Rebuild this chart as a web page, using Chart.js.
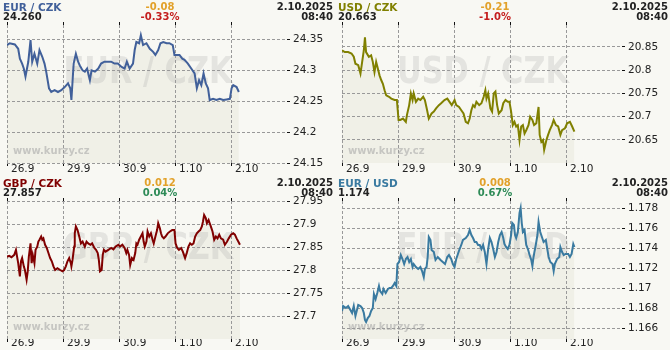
<!DOCTYPE html>
<html>
<head>
<meta charset="utf-8">
<title>Kurzy</title>
<script src="https://cdn.jsdelivr.net/npm/chart.js@4.4.1/dist/chart.umd.min.js"></script>
<style>
  html, body { margin: 0; padding: 0; }
  body { width: 670px; height: 350px; position: relative; overflow: hidden; background: #f8f8f3;
         font-family: "DejaVu Sans", Verdana, sans-serif; color: #222; }
  .panel { position: absolute; width: 335px; }
  .panel canvas { position: absolute; left: 0; top: 0; }
  .hd { position: absolute; font-size: 10px; font-weight: bold; line-height: 12px; white-space: nowrap; }
  .nm { font-size: 10.5px; }
  .l { left: 3px; }
  .c { left: 100px; width: 120px; text-align: center; }
  .r { right: 2px; text-align: right; }
  .r1 { top: 0.5px; }
  .r2 { top: 10.5px; }
</style>
</head>
<body>
<script>
// ---- data (x = trading days since 26.9) ----
const dayLabels = ['26.9', '29.9', '30.9', '1.10', '2.10'];

const pairNames = ['EUR / CZK', 'USD / CZK', 'GBP / CZK', 'EUR / USD'];
const lastRates = ['24.260', '20.663', '27.857', '1.174'];
const changeAbs = ['-0.08', '-0.21', '0.012', '0.008'];
const changePct = ['-0.33%', '-1.0%', '0.04%', '0.67%'];
const stampDate = '2.10.2025';
const stampTime = '08:40';

const eurCzkTicks = [24.15, 24.2, 24.25, 24.3, 24.35];
const usdCzkTicks = [20.65, 20.7, 20.75, 20.8, 20.85];
const gbpCzkTicks = [27.7, 27.75, 27.8, 27.85, 27.9, 27.95];
const eurUsdTicks = [1.166, 1.168, 1.17, 1.172, 1.174, 1.176, 1.178];

const eurCzkT = [0, 0.05, 0.14, 0.20, 0.23, 0.27, 0.30, 0.33, 0.38, 0.42,
  0.45, 0.49, 0.54, 0.58, 0.63, 0.67, 0.70, 0.75, 0.79, 0.85,
  0.91, 0.97, 1.03, 1.09, 1.13, 1.15, 1.19, 1.23, 1.27, 1.30,
  1.35, 1.39, 1.43, 1.48, 1.51, 1.57, 1.63, 1.68, 1.74, 1.80,
  1.86, 1.92, 1.98, 2.04, 2.10, 2.14, 2.19, 2.25, 2.28, 2.31,
  2.36, 2.39, 2.43, 2.49, 2.55, 2.61, 2.65, 2.70, 2.74, 2.79,
  2.85, 2.90, 2.96, 2.99, 3.04, 3.08, 3.13, 3.17, 3.23, 3.29,
  3.35, 3.39, 3.43, 3.47, 3.51, 3.55, 3.59, 3.62, 3.68, 3.74,
  3.80, 3.86, 3.92, 3.98, 4.01, 4.04, 4.10, 4.14];
const eurCzkV = [24.341, 24.344, 24.342, 24.335, 24.319, 24.311, 24.303, 24.290, 24.314, 24.349,
  24.314, 24.327, 24.311, 24.333, 24.322, 24.311, 24.298, 24.271, 24.265, 24.268,
  24.265, 24.268, 24.273, 24.279, 24.271, 24.252, 24.311, 24.327, 24.314, 24.308,
  24.300, 24.298, 24.303, 24.284, 24.300, 24.298, 24.303, 24.311, 24.314, 24.314,
  24.314, 24.311, 24.311, 24.306, 24.303, 24.314, 24.303, 24.311, 24.333, 24.346,
  24.344, 24.357, 24.341, 24.344, 24.335, 24.330, 24.325, 24.333, 24.344, 24.346,
  24.344, 24.344, 24.341, 24.325, 24.325, 24.325, 24.319, 24.317, 24.311, 24.303,
  24.295, 24.271, 24.284, 24.276, 24.295, 24.279, 24.271, 24.252, 24.254, 24.252,
  24.254, 24.252, 24.253, 24.254, 24.271, 24.276, 24.273, 24.265];

const usdCzkT = [0, 0.05, 0.11, 0.17, 0.21, 0.24, 0.29, 0.33, 0.36, 0.39,
  0.41, 0.43, 0.48, 0.52, 0.55, 0.58, 0.61, 0.64, 0.67, 0.70,
  0.73, 0.76, 0.79, 0.84, 0.88, 0.94, 0.98, 1.01, 1.04, 1.09,
  1.14, 1.16, 1.20, 1.23, 1.26, 1.28, 1.32, 1.36, 1.40, 1.45,
  1.48, 1.52, 1.55, 1.60, 1.64, 1.68, 1.73, 1.77, 1.83, 1.88,
  1.92, 1.96, 2.01, 2.04, 2.09, 2.13, 2.17, 2.21, 2.25, 2.28,
  2.31, 2.34, 2.37, 2.40, 2.45, 2.49, 2.53, 2.56, 2.58, 2.61,
  2.65, 2.68, 2.71, 2.74, 2.77, 2.80, 2.85, 2.88, 2.92, 2.96,
  2.99, 3.02, 3.05, 3.08, 3.11, 3.14, 3.17, 3.20, 3.23, 3.26,
  3.29, 3.33, 3.36, 3.40, 3.43, 3.47, 3.51, 3.53, 3.56, 3.59,
  3.61, 3.65, 3.68, 3.71, 3.75, 3.78, 3.82, 3.86, 3.90, 3.93,
  3.98, 4.02, 4.07, 4.11, 4.15];
const usdCzkV = [20.843, 20.839, 20.839, 20.836, 20.829, 20.814, 20.811, 20.793, 20.818, 20.843,
  20.871, 20.839, 20.829, 20.832, 20.818, 20.796, 20.818, 20.804, 20.789, 20.779,
  20.771, 20.757, 20.746, 20.743, 20.739, 20.736, 20.736, 20.693, 20.693, 20.696,
  20.689, 20.704, 20.725, 20.750, 20.736, 20.750, 20.732, 20.739, 20.736, 20.743,
  20.736, 20.714, 20.696, 20.707, 20.711, 20.718, 20.725, 20.729, 20.736, 20.739,
  20.732, 20.725, 20.736, 20.725, 20.721, 20.714, 20.707, 20.689, 20.686, 20.696,
  20.714, 20.725, 20.721, 20.732, 20.725, 20.729, 20.743, 20.757, 20.739, 20.750,
  20.718, 20.711, 20.750, 20.754, 20.725, 20.707, 20.714, 20.729, 20.736, 20.732,
  20.732, 20.711, 20.682, 20.689, 20.679, 20.682, 20.650, 20.679, 20.682, 20.664,
  20.671, 20.682, 20.700, 20.693, 20.682, 20.686, 20.721, 20.661, 20.646, 20.650,
  20.629, 20.650, 20.661, 20.671, 20.682, 20.693, 20.682, 20.679, 20.661, 20.671,
  20.675, 20.686, 20.689, 20.679, 20.668];

const gbpCzkT = [0, 0.04, 0.08, 0.13, 0.16, 0.18, 0.20, 0.23, 0.25, 0.27,
  0.30, 0.32, 0.35, 0.37, 0.39, 0.42, 0.44, 0.46, 0.49, 0.51,
  0.54, 0.56, 0.58, 0.61, 0.63, 0.65, 0.68, 0.71, 0.74, 0.77,
  0.80, 0.83, 0.86, 0.90, 0.95, 0.99, 1.02, 1.05, 1.08, 1.11,
  1.14, 1.15, 1.17, 1.20, 1.21, 1.23, 1.26, 1.29, 1.32, 1.35,
  1.39, 1.42, 1.45, 1.49, 1.52, 1.56, 1.59, 1.62, 1.64, 1.66,
  1.69, 1.71, 1.73, 1.76, 1.81, 1.86, 1.90, 1.94, 1.99, 2.02,
  2.06, 2.10, 2.13, 2.15, 2.18, 2.20, 2.23, 2.26, 2.29, 2.31,
  2.33, 2.36, 2.39, 2.42, 2.44, 2.46, 2.49, 2.51, 2.54, 2.57,
  2.60, 2.62, 2.65, 2.68, 2.70, 2.73, 2.75, 2.77, 2.80, 2.83,
  2.87, 2.91, 2.95, 2.99, 3.01, 3.04, 3.07, 3.11, 3.14, 3.18,
  3.21, 3.24, 3.27, 3.30, 3.33, 3.36, 3.39, 3.42, 3.45, 3.48,
  3.50, 3.52, 3.55, 3.57, 3.60, 3.62, 3.64, 3.67, 3.70, 3.73,
  3.76, 3.79, 3.82, 3.86, 3.89, 3.93, 3.96, 4.00, 4.04, 4.07,
  4.10, 4.13, 4.16];
const gbpCzkV = [27.830, 27.832, 27.829, 27.834, 27.845, 27.830, 27.816, 27.787, 27.820, 27.827,
  27.809, 27.801, 27.780, 27.798, 27.830, 27.859, 27.816, 27.834, 27.816, 27.845,
  27.852, 27.863, 27.867, 27.874, 27.867, 27.870, 27.856, 27.849, 27.838, 27.827,
  27.820, 27.809, 27.801, 27.805, 27.801, 27.798, 27.801, 27.809, 27.820, 27.827,
  27.816, 27.809, 27.823, 27.852, 27.881, 27.896, 27.888, 27.874, 27.859, 27.863,
  27.852, 27.863, 27.859, 27.856, 27.859, 27.849, 27.845, 27.838, 27.823, 27.798,
  27.801, 27.834, 27.845, 27.841, 27.845, 27.849, 27.846, 27.852, 27.856, 27.852,
  27.856, 27.849, 27.838, 27.845, 27.834, 27.812, 27.827, 27.823, 27.838, 27.859,
  27.856, 27.867, 27.874, 27.881, 27.863, 27.852, 27.863, 27.885, 27.874, 27.881,
  27.867, 27.859, 27.874, 27.888, 27.903, 27.892, 27.881, 27.874, 27.870, 27.874,
  27.881, 27.885, 27.888, 27.888, 27.859, 27.849, 27.845, 27.849, 27.841, 27.827,
  27.838, 27.852, 27.859, 27.856, 27.859, 27.874, 27.881, 27.885, 27.888, 27.896,
  27.907, 27.921, 27.914, 27.903, 27.910, 27.903, 27.896, 27.885, 27.867, 27.874,
  27.870, 27.878, 27.870, 27.867, 27.856, 27.863, 27.870, 27.878, 27.881, 27.878,
  27.870, 27.863, 27.856];

const eurUsdT = [0, 0.02, 0.07, 0.11, 0.15, 0.18, 0.21, 0.24, 0.29, 0.33,
  0.36, 0.39, 0.41, 0.43, 0.46, 0.49, 0.52, 0.55, 0.57, 0.60,
  0.63, 0.66, 0.68, 0.72, 0.74, 0.78, 0.82, 0.85, 0.88, 0.91,
  0.94, 0.97, 0.99, 1.02, 1.05, 1.08, 1.11, 1.14, 1.17, 1.20,
  1.23, 1.26, 1.28, 1.32, 1.36, 1.40, 1.43, 1.46, 1.48, 1.51,
  1.53, 1.55, 1.58, 1.60, 1.64, 1.67, 1.71, 1.76, 1.80, 1.84,
  1.88, 1.91, 1.95, 1.98, 2.01, 2.04, 2.07, 2.10, 2.13, 2.16,
  2.21, 2.25, 2.28, 2.31, 2.34, 2.37, 2.40, 2.43, 2.46, 2.49,
  2.52, 2.55, 2.58, 2.61, 2.64, 2.67, 2.70, 2.73, 2.76, 2.79,
  2.82, 2.85, 2.88, 2.90, 2.93, 2.96, 2.99, 3.02, 3.04, 3.07,
  3.09, 3.11, 3.14, 3.17, 3.19, 3.21, 3.23, 3.26, 3.29, 3.32,
  3.35, 3.38, 3.40, 3.42, 3.46, 3.49, 3.51, 3.54, 3.57, 3.60,
  3.64, 3.66, 3.69, 3.72, 3.76, 3.78, 3.80, 3.84, 3.88, 3.90,
  3.93, 3.96, 3.99, 4.04, 4.07, 4.10, 4.13, 4.15];
const eurUsdV = [1.1677, 1.1682, 1.1680, 1.1682, 1.1678, 1.1675, 1.1682, 1.1672, 1.1683, 1.1682,
  1.1680, 1.1675, 1.1668, 1.1666, 1.1670, 1.1672, 1.1677, 1.1680, 1.1694, 1.1689,
  1.1695, 1.1702, 1.1697, 1.1694, 1.1699, 1.1695, 1.1699, 1.1700, 1.1700, 1.1702,
  1.1705, 1.1702, 1.1724, 1.1726, 1.1733, 1.1729, 1.1724, 1.1729, 1.1731, 1.1726,
  1.1729, 1.1721, 1.1724, 1.1721, 1.1719, 1.1721, 1.1717, 1.1711, 1.1719, 1.1721,
  1.1731, 1.1751, 1.1748, 1.1738, 1.1736, 1.1728, 1.1731, 1.1728, 1.1726, 1.1724,
  1.1731, 1.1733, 1.1729, 1.1724, 1.1721, 1.1729, 1.1734, 1.1739, 1.1743, 1.1748,
  1.1750, 1.1753, 1.1758, 1.1753, 1.1750, 1.1746, 1.1746, 1.1743, 1.1743, 1.1739,
  1.1743, 1.1736, 1.1724, 1.1739, 1.1750, 1.1746, 1.1739, 1.1731, 1.1736, 1.1746,
  1.1753, 1.1756, 1.1750, 1.1744, 1.1741, 1.1739, 1.1743, 1.1753, 1.1765, 1.1763,
  1.1753, 1.1750, 1.1756, 1.1775, 1.1780, 1.1765, 1.1756, 1.1758, 1.1743, 1.1739,
  1.1733, 1.1728, 1.1722, 1.1731, 1.1743, 1.1753, 1.1766, 1.1756, 1.1751, 1.1746,
  1.1748, 1.1741, 1.1731, 1.1726, 1.1724, 1.1717, 1.1724, 1.1729, 1.1731, 1.1741,
  1.1736, 1.1733, 1.1734, 1.1734, 1.1731, 1.1734, 1.1744, 1.1741];

// ---- panels ----
const panels = [
  { left: 0,   top: 0,   h: 176, t: eurCzkT, v: eurCzkV, ticks: eurCzkTicks, min: 24.15,   max: 24.3735, color: '#41609a', labelPad: -2.6 },
  { left: 335, top: 0,   h: 176, t: usdCzkT, v: usdCzkV, ticks: usdCzkTicks, min: 20.6005, max: 20.8973, color: '#808000', labelPad: -2.6 },
  { left: 0,   top: 176, h: 174, t: gbpCzkT, v: gbpCzkV, ticks: gbpCzkTicks, min: 27.6505, max: 27.9515, color: '#800000', labelPad: -4.6 },
  { left: 335, top: 176, h: 174, t: eurUsdT, v: eurUsdV, ticks: eurUsdTicks, min: 1.1649,  max: 1.1787,  color: '#3a7aa0', labelPad: -4.6 }
];

const tickFont = { family: 'DejaVu Sans', size: 10.5 };
const gridColor = '#999999';

// big pair name + site name behind the line
const marks = {
  id: 'marks',
  beforeDraw(chart, args, opts) {
    const { ctx, chartArea: a } = chart;
    ctx.save();
    ctx.font = 'bold 38px "DejaVu Sans"';
    ctx.fillStyle = 'rgba(175,175,175,0.28)';
    ctx.textAlign = 'center';
    ctx.translate(a.left + 141, a.top + 58);
    ctx.scale(0.8, 1);
    ctx.fillText(opts.text, 0, 0);
    ctx.restore();

    ctx.save();
    ctx.font = 'bold 10px "DejaVu Sans"';
    ctx.fillStyle = '#c6c6c2';
    ctx.textAlign = 'left';
    ctx.fillText('www.kurzy.cz', a.left + 6, a.bottom - 9.5);
    ctx.restore();
  }
};

function makeChart(canvas, p, name) {
  const dayTicks = ax => { ax.ticks = dayLabels.map((_, i) => ({ value: i })); };
  return new Chart(canvas, {
    type: 'line',
    data: {
      datasets: [{
        data: p.t.map((t, i) => ({ x: t, y: p.v[i] })),
        borderColor: p.color,
        borderWidth: 2,
        pointRadius: 0,
        tension: 0,
        fill: 'start',
        backgroundColor: '#f0f0e7'
      }]
    },
    options: {
      responsive: false,
      animation: false,
      events: [],
      layout: { padding: { left: 7, right: 0, top: 0, bottom: 0 } },
      plugins: {
        legend: { display: false },
        tooltip: { enabled: false },
        filler: { drawTime: 'beforeDraw' },
        marks: { text: name }
      },
      scales: {
        x: {
          type: 'linear', position: 'bottom', min: 0, max: 5,
          afterBuildTicks: dayTicks,
          afterFit: ax => { ax.height = p.h - 163; },
          ticks: {
            callback: v => dayLabels[v], align: 'start', labelOffset: 4, padding: p.labelPad,
            maxRotation: 0, minRotation: 0, autoSkip: false, color: '#222', font: tickFont
          },
          grid: { color: gridColor, tickColor: '#111', tickLength: 3, lineWidth: 1 },
          border: { display: false, dash: [3, 2] }
        },
        xTop: {
          type: 'linear', position: 'top', min: 0, max: 5,
          afterBuildTicks: dayTicks,
          afterFit: ax => { ax.height = 25; },
          ticks: { display: false },
          grid: { drawOnChartArea: false, tickColor: '#111', tickLength: 3 },
          border: { display: false }
        },
        y: {
          type: 'linear', position: 'right', min: p.min, max: p.max,
          afterBuildTicks: ax => { ax.ticks = p.ticks.map(v => ({ value: v })); },
          afterFit: ax => { ax.width = 48; },
          ticks: { callback: v => String(v), padding: 3, color: '#222', font: tickFont },
          grid: { color: gridColor, tickColor: '#111', tickLength: 3, lineWidth: 1 },
          border: { display: false, dash: [3, 2] }
        }
      }
    },
    plugins: [marks]
  });
}

panels.forEach((p, i) => {
  const box = document.createElement('div');
  box.className = 'panel';
  box.style.left = p.left + 'px';
  box.style.top = p.top + 'px';
  box.style.height = p.h + 'px';
  const cv = document.createElement('canvas');
  cv.width = 335;
  cv.height = p.h;
  box.appendChild(cv);
  const pctColor = changePct[i].startsWith('-') ? '#c41e1e' : '#2e8b57';
  box.insertAdjacentHTML('beforeend',
    `<span class="hd nm l r1" style="color:${p.color}">${pairNames[i]}</span>` +
    `<span class="hd l r2">${lastRates[i]}</span>` +
    `<span class="hd c r1" style="color:#e2a12a">${changeAbs[i]}</span>` +
    `<span class="hd c r2" style="color:${pctColor}">${changePct[i]}</span>` +
    `<span class="hd r r1">${stampDate}</span>` +
    `<span class="hd r r2">${stampTime}</span>`);
  document.body.appendChild(box);
  makeChart(cv, p, pairNames[i]);
});
</script>
</body>
</html>
